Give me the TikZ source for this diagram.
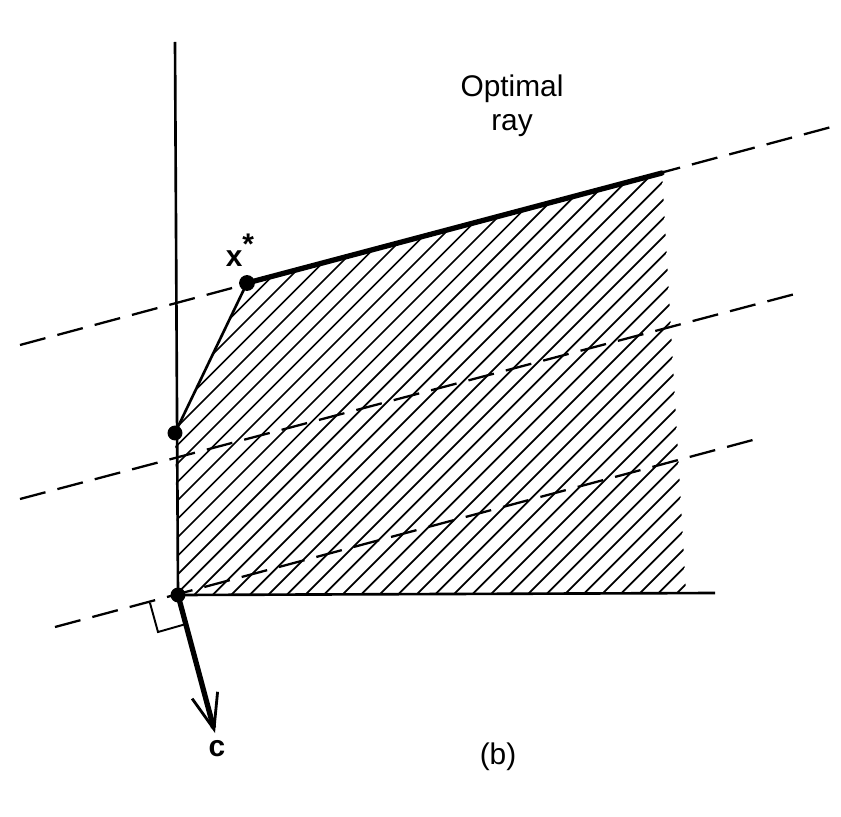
\documentclass[tikz,border=0pt]{standalone}
\usepackage{fontspec}
\setmainfont{Liberation Sans}
\usepackage{tikz}
\usetikzlibrary{arrows.meta,calc,positioning}

\tikzset{
  axisline/.style={line width=1.5pt},
  level/.style={line width=1.3pt,dash pattern=on 15pt off 7pt},
  hatchline/.style={line width=1pt},
  vertex/.style={circle,fill=black,inner sep=0pt,minimum size=8.5pt},
  lbl/.style={font=\fontsize{17}{19.5}\selectfont}
}

\begin{document}
\begin{tikzpicture}[x=0.02cm,y=-0.02cm,>={Straight Barb[length=20pt,width=15pt,line width=1.6pt]}]
\useasboundingbox (0,0) rectangle (841,817);
% corner points of the feasible region
\coordinate (O) at (178,595);
\coordinate (A) at (175,433);
\coordinate (X) at (247,283);
\coordinate (R) at (662,173);
\coordinate (B) at (686,593);
\coordinate (E) at (715,593);
\coordinate (T) at (175,42);
% hatching
\begin{scope}
\clip (O)--(A)--(X)--(R)--(B)--cycle;
\foreach \c in {530,548.5,...,1300}
  \draw[hatchline] (\c-600,600)--(\c,0);
\end{scope}
% level lines of c.x
\coordinate (L1a) at (20,345);  \coordinate (L1b) at (835,126);
\coordinate (L2a) at (20,499);  \coordinate (L2b) at (795,294);
\coordinate (L3a) at (55,627);  \coordinate (L3b) at (764,437);
\draw[level] (L1a)--(L1b);
\draw[level] (L2a)--(L2b);
\draw[level] (L3a)--(L3b);
% axes and edges
\draw[axisline] (O)--(T);
\draw[axisline] (O)--(E);
\draw[axisline] (A)--(X);
\draw[line width=3pt,line cap=round] (X)--(R);
% right angle mark
\coordinate (Q1) at (150,603);
\coordinate (Q2) at (158,632);
\coordinate (Q3) at (186,624);
\draw[line width=1.1pt] (Q1)--(Q2)--(Q3);
% cost vector
\coordinate (C) at (215,733);
\draw[->,line width=3pt] (O)--(C);
\node[vertex] (o) at (O) {};
\node[vertex] (a) at (A) {};
\node[vertex,minimum size=9pt] (xs) at (X) {};
\node[lbl,font=\fontsize{17}{19.5}\selectfont\bfseries] (xlab) at (240,250) {x\raisebox{0.4em}{*}};
\node[lbl,font=\fontsize{17}{19.5}\selectfont\bfseries] (clab) at (217,749) {c};
\node[lbl,align=center] (ray) at (512,106) {Optimal\\ray};
\node[lbl] (cap) at (498,757) {(b)};
\end{tikzpicture}
\end{document}
